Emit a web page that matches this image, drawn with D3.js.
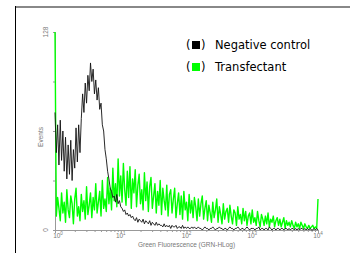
<!DOCTYPE html>
<html>
<head>
<meta charset="utf-8">
<script src="https://cdn.jsdelivr.net/npm/d3@7/dist/d3.min.js"></script>
<style>
  html, body { margin: 0; padding: 0; background: #fff; }
  svg { display: block; }
  .tick-lbl { font-family: "Liberation Sans", Arial, sans-serif; font-size: 6.5px; fill: #777; }
  .legend text { font-family: "DejaVu Sans", sans-serif; font-size: 11.5px; fill: #000; }
</style>
</head>
<body>
<div id="chart"></div>
<script>
// histogram counts per channel (201 log-spaced channels, 10^0 .. 10^4)
const negativeControl = [
  76, 50, 68, 42, 71, 45, 64, 38, 60, 33,
  55, 36, 58, 32, 52, 40, 66, 44, 68, 50,
  72, 88, 76, 95, 82, 100, 90, 108, 96, 104,
  88, 97, 84, 92, 78, 82, 68, 64, 52, 46,
  38, 33, 27, 25, 21, 22, 18, 23, 17, 19,
  15, 14, 12, 13, 10, 11, 9, 10, 8, 9,
  7, 6, 8, 5, 7, 6, 5, 7, 4, 6,
  5, 4, 6, 3, 5, 4, 3, 5, 3, 4,
  3, 3, 2, 4, 2, 3, 2, 3, 1, 3,
  2, 2, 3, 1, 2, 2, 1, 3, 1, 2,
  1, 2, 1, 1, 2, 1, 2, 1, 1, 2,
  1, 1, 0, 1, 2, 1, 1, 0, 1, 1,
  2, 1, 0, 1, 1, 2, 1, 1, 0, 1,
  1, 0, 1, 2, 1, 1, 0, 1, 1, 2,
  1, 0, 1, 1, 0, 1, 2, 1, 0, 1,
  1, 1, 0, 1, 1, 2, 0, 1, 1, 0,
  1, 1, 0, 2, 1, 0, 1, 1, 0, 1,
  1, 0, 1, 1, 0, 1, 1, 0, 1, 0,
  1, 1, 0, 1, 0, 1, 0, 1, 1, 0,
  1, 0, 1, 0, 1, 0, 0, 1, 0, 1,
  0
];
const transfectant = [
  128, 9, 21, 14, 6, 24, 11, 18, 5, 26,
  13, 8, 22, 17, 4, 20, 27, 9, 15, 6,
  23, 12, 19, 7, 28, 10, 16, 24, 8, 21,
  13, 30, 11, 18, 25, 9, 32, 14, 20, 12,
  34, 17, 27, 13, 40, 19, 30, 15, 46, 22,
  35, 18, 43, 26, 16, 38, 21, 41, 14, 33,
  24, 39, 15, 29, 36, 17, 26, 13, 37, 19,
  31, 12, 28, 34, 14, 22, 30, 11, 25, 16,
  32, 10, 27, 19, 13, 29, 9, 23, 26, 11,
  20, 27, 8, 17, 24, 10, 22, 7, 25, 13,
  18, 6, 23, 11, 19, 8, 21, 15, 6, 20,
  9, 17, 22, 7, 14, 19, 6, 16, 11, 5,
  18, 8, 13, 20, 5, 15, 10, 4, 17, 7,
  12, 14, 5, 16, 9, 4, 13, 11, 3, 15,
  7, 10, 4, 14, 6, 12, 3, 9, 11, 4,
  13, 5, 8, 3, 12, 6, 2, 10, 7, 3,
  9, 4, 11, 2, 7, 5, 9, 2, 6, 8,
  3, 7, 2, 5, 8, 1, 6, 3, 5, 2,
  6, 3, 1, 5, 2, 4, 1, 5, 3, 1,
  4, 2, 1, 3, 1, 2, 3, 1, 2, 1,
  20
];
const xTicks = [1, 10, 100, 1000, 10000];
const xTickExp = ['0', '1', '2', '3', '4'];
const yTicks = [0, 32, 64, 96, 128];
const yTickLabels = ['0', '', '', '', '128'];
const seriesNames = ['Negative control', 'Transfectant'];
const seriesColors = ['#000000', '#00ff00'];

const width = 350, height = 253;
const plot = { left: 55, right: 318, top: 32, bottom: 230 };

const svg = d3.select('#chart').append('svg').attr('width', width).attr('height', height);

// frame (top + left edge of the panel)
svg.append('line').attr('x1', 15).attr('x2', width).attr('y1', 7).attr('y2', 7)
  .attr('stroke', '#888').attr('stroke-width', 2);
svg.append('line').attr('x1', 15.5).attr('x2', 15.5).attr('y1', 6).attr('y2', height)
  .attr('stroke', '#000').attr('stroke-width', 1);

const nCh = negativeControl.length - 1;
const channelValue = (i) => Math.pow(10, 4 * i / nCh);

const x = d3.scaleLog().domain([1, 10000]).range([plot.left, plot.right]);
const y = d3.scaleLinear().domain([0, 128]).range([plot.bottom, plot.top]);

// x axis with minor log ticks
const minor = [];
for (let d = 1; d < 10000; d *= 10) for (let k = 2; k < 10; k++) minor.push(d * k);
const gx = svg.append('g').attr('transform', `translate(0,${plot.bottom})`);
gx.call(d3.axisBottom(x).tickValues(minor).tickSize(2).tickFormat(''));
gx.call(g => g.select('.domain').remove());
const gx2 = svg.append('g').attr('transform', `translate(0,${plot.bottom})`);
gx2.call(d3.axisBottom(x).tickValues(xTicks).tickSize(3).tickFormat(''));
svg.selectAll('.tick line').attr('stroke', '#999');
gx2.select('.domain').attr('stroke', '#999');

svg.append('g').selectAll('text').data(xTicks).join('text')
  .attr('class', 'tick-lbl')
  .attr('x', (d, i) => x(d) + (i === 0 ? 3 : 0))
  .attr('y', plot.bottom + 7.5)
  .attr('text-anchor', 'middle')
  .each(function (d, i) {
    const t = d3.select(this);
    t.append('tspan').text('10');
    t.append('tspan').attr('dy', -2.5).attr('font-size', '4.5px').text(xTickExp[i]);
  });

svg.append('text').attr('class', 'tick-lbl')
  .attr('x', (x(1) + x(10000)) / 2).attr('y', 247)
  .attr('font-size', '7.5px')
  .attr('text-anchor', 'middle').text('Green Fluorescence (GRN-HLog)');

// y axis
const gy = svg.append('g').attr('transform', `translate(${plot.left},0)`);
gy.call(d3.axisLeft(y).tickValues(yTicks).tickSize(2).tickFormat(''));
gy.selectAll('line').attr('stroke', '#999');
gy.select('.domain').attr('stroke', '#999');

svg.append('g').selectAll('text').data(yTicks).join('text')
  .attr('class', 'tick-lbl')
  .attr('transform', d => `translate(48,${y(d)}) rotate(-90)`)
  .attr('text-anchor', 'middle')
  .text((d, i) => yTickLabels[i]);

svg.append('text').attr('class', 'tick-lbl')
  .attr('transform', `translate(43,${(plot.top + plot.bottom) / 2 + 6}) rotate(-90)`)
  .attr('text-anchor', 'middle').text('Events');

// histograms: transfectant under the negative control
const line = d3.line().x((d, i) => x(channelValue(i))).y(d => y(Math.min(d, 128)));
[transfectant, negativeControl].forEach((s, k) => {
  svg.append('path').datum(s)
    .attr('fill', 'none')
    .attr('stroke', k === 0 ? seriesColors[1] : '#111')
    .attr('stroke-width', k === 0 ? 1.4 : 0.9)
    .attr('stroke-linejoin', 'round')
    .attr('d', line);
});

// legend
const legend = svg.append('g').attr('class', 'legend');
const rows = legend.selectAll('g').data(seriesNames).join('g')
  .attr('transform', (d, i) => `translate(0,${49 + i * 22})`);
rows.append('text').attr('x', 186).attr('y', 0).text('(');
rows.append('rect').attr('x', 192).attr('y', -8).attr('width', 8).attr('height', 8)
  .attr('fill', (d, i) => seriesColors[i]);
rows.append('text').attr('x', 201).attr('y', 0).text(')');
rows.append('text').attr('x', 215).attr('y', 0).text(d => d);
</script>
</body>
</html>
